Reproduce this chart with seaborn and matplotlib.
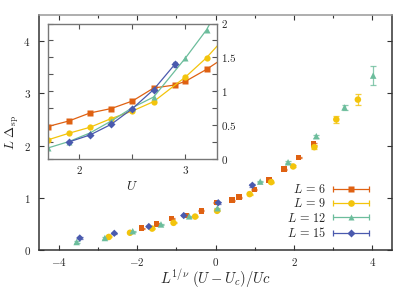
import numpy as np
import pandas as pd
import matplotlib
matplotlib.use("Agg")
import matplotlib.pyplot as plt
import seaborn as sns
from matplotlib.lines import Line2D
from matplotlib.legend_handler import HandlerBase
from matplotlib.ticker import MultipleLocator, FuncFormatter

# ---------------- data ----------------
sizes = [6, 9, 12, 15]
colors = ["#DF6112", "#F3C40C", "#6CBD9C", "#4A5AAE"]
markers = ["s", "o", "^", "D"]

# main (scaled) data
L6_x = [-1.885, -1.50, -1.12, -0.74, -0.36, 0.025, 0.415, 0.60, 0.99, 1.37, 1.75, 2.12, 2.50]
L6_y = [0.42, 0.50, 0.60, 0.66, 0.75, 0.91, 0.957, 1.01, 1.155, 1.345, 1.55, 1.77, 2.03]
L6_e = [0.01] * 13
L9_x = [-2.72, -2.18, -1.615, -1.07, -0.52, 0.04, 0.87, 1.42, 1.98, 2.52, 3.08, 3.63]
L9_y = [0.25, 0.33, 0.41, 0.52, 0.64, 0.75, 1.07, 1.30, 1.60, 1.97, 2.50, 2.88]
L9_e = [0.01, 0.01, 0.01, 0.01, 0.01, 0.01, 0.01, 0.01, 0.02, 0.03, 0.07, 0.11]
L12_x = [-3.54, -2.82, -2.11, -1.39, -0.67, 0.05, 1.14, 1.85, 2.57, 3.29, 4.02]
L12_y = [0.153, 0.23, 0.36, 0.49, 0.645, 0.80, 1.31, 1.68, 2.18, 2.73, 3.34]
L12_e = [0.01, 0.01, 0.01, 0.01, 0.01, 0.01, 0.01, 0.02, 0.03, 0.05, 0.175]
L15_x = [-3.46, -2.58, -1.70, -0.81, 0.07, 0.94]
L15_y = [0.23, 0.32, 0.45, 0.66, 0.905, 1.24]
L15_e = [0.01, 0.01, 0.01, 0.01, 0.02, 0.03]

# inset (raw U) data
U6 = [1.7, 1.9, 2.1, 2.3, 2.5, 2.7, 2.9, 3.0, 3.2, 3.4]
I6 = [0.473, 0.556, 0.675, 0.74, 0.852, 1.044, 1.089, 1.143, 1.321, 1.53]
U9 = [1.7, 1.9, 2.1, 2.3, 2.5, 2.7, 3.0, 3.2, 3.4]
I9 = [0.275, 0.374, 0.463, 0.592, 0.704, 0.843, 1.207, 1.494, 1.84]
U12 = [1.7, 1.9, 2.1, 2.3, 2.5, 2.7, 3.0, 3.2, 3.4]
I12 = [0.155, 0.251, 0.379, 0.556, 0.754, 0.911, 1.488, 1.908, 2.49]
U15 = [1.9, 2.1, 2.3, 2.5, 2.7, 2.9]
I15 = [0.245, 0.349, 0.507, 0.740, 1.021, 1.395]
I15_e = [0.01, 0.01, 0.01, 0.01, 0.015, 0.035]

main_sets = [(L6_x, L6_y, L6_e), (L9_x, L9_y, L9_e), (L12_x, L12_y, L12_e), (L15_x, L15_y, L15_e)]
inset_sets = [(U6, I6), (U9, I9), (U12, I12), (U15, I15)]
main_ms = [16, 22, 22, 14]
inset_ms = [4.2, 4.5, 4.5, 3.6]

# ---------------- style ----------------
sns.set_style("ticks")
plt.rcParams["font.family"] = ["serif"]
plt.rcParams["font.serif"] = ["cmr10", "DejaVu Serif"]
plt.rcParams["mathtext.fontset"] = "cm"
plt.rcParams["axes.formatter.use_mathtext"] = True

fig = plt.figure(figsize=(4.15, 2.91), dpi=100)
ax = fig.add_axes([39 / 415, 1 - 250 / 291, 353 / 415, 235 / 291])

for (x, y, e), c, m, s, L in zip(main_sets, colors, markers, main_ms, sizes):
    ax.errorbar(x, y, yerr=e, fmt="none", ecolor=c, elinewidth=0.9, capsize=2.0, capthick=0.9, alpha=0.8, zorder=2)
    df = pd.DataFrame({"x": x, "y": y})
    sns.scatterplot(data=df, x="x", y="y", ax=ax, color=c, marker=m, s=s, edgecolor="none", legend=False, zorder=3)

ax.set_xlim(-4.5, 4.5)
ax.set_ylim(0, 4.5)
ax.xaxis.set_major_locator(MultipleLocator(2))
ax.xaxis.set_minor_locator(MultipleLocator(1))
ax.yaxis.set_major_locator(MultipleLocator(1))
fmt = FuncFormatter(lambda v, p: "$%g$" % v if abs(v) > 1e-9 else "$0$")
ax.xaxis.set_major_formatter(fmt)
ax.yaxis.set_major_formatter(fmt)
ax.tick_params(which="both", direction="in", top=True, right=True, labelsize=8, color="#333333")
ax.tick_params(which="major", length=3.5, width=0.8)
ax.tick_params(which="minor", length=2.5, width=0.8)
ax.tick_params(axis="x", pad=4)
ax.tick_params(axis="y", pad=6)
for sp in ["left", "bottom", "right"]:
    ax.spines[sp].set_color("#333333")
    ax.spines[sp].set_linewidth(1.1)
ax.spines["top"].set_color("#999999")
ax.spines["top"].set_linewidth(1.1)
ax.set_xlabel(r"$L^{1/\nu}\ (U-U_c)/Uc$", fontsize=10.5, labelpad=0)
ax.set_ylabel(r"$L\ \Delta_{\rm sp}$", fontsize=9.5, labelpad=2)


# legend with errorbar-like handles
class CapHandler(HandlerBase):
    def create_artists(self, legend, orig_handle, xdescent, ydescent, width, height, fontsize, trans):
        c = orig_handle.get_color()
        m = orig_handle.get_marker()
        ms = orig_handle.get_markersize()
        y = height / 2 - ydescent
        x0, x1 = -xdescent, width - xdescent
        line = Line2D([x0, x1], [y, y], color=c, lw=0.9)
        caps = Line2D([x0, x1], [y, y], ls="none", marker="|", ms=4, mew=0.9, color=c)
        mk = Line2D([(x0 + x1) / 2], [y], ls="none", marker=m, ms=ms, color=c, mec="none")
        for a in (line, caps, mk):
            a.set_transform(trans)
        return [line, caps, mk]


handles = [Line2D([], [], color=c, marker=m, ms=ms) for c, m, ms in zip(colors, markers, [4.3, 4.8, 4.8, 3.8])]
labels = [r"$L\,=\,%d$" % L for L in sizes]
ax.legend(handles, labels, handler_map={Line2D: CapHandler()}, loc="center",
          bbox_to_anchor=(0.818, 0.164), frameon=False, markerfirst=False,
          fontsize=8.8, handlelength=2.9, handletextpad=0.6, labelspacing=0.1, borderpad=0)

# ---------------- inset ----------------
axi = fig.add_axes([47.7 / 415, 1 - 158.5 / 291, 169.5 / 415, 135 / 291])
axi.set_facecolor("white")
for (u, v), c, m, ms in zip(inset_sets, colors, markers, inset_ms):
    dfi = pd.DataFrame({"U": u, "v": v})
    sns.lineplot(data=dfi, x="U", y="v", ax=axi, color=c, marker=m, markersize=ms, markeredgecolor="none",
                 linewidth=0.9, estimator=None, sort=False, legend=False)
axi.errorbar(U15, I15, yerr=I15_e, fmt="none", ecolor=colors[3], elinewidth=0.9, capsize=1.5, capthick=0.9)
axi.set_xlim(1.7, 3.3)
axi.set_ylim(0, 2)
axi.xaxis.set_major_locator(MultipleLocator(1))
axi.xaxis.set_minor_locator(MultipleLocator(0.5))
axi.yaxis.set_major_locator(MultipleLocator(0.5))
axi.yaxis.set_minor_locator(MultipleLocator(0.25))
axi.xaxis.set_major_formatter(fmt)
axi.yaxis.set_major_formatter(fmt)
axi.tick_params(which="both", direction="in", top=True, right=True, left=True, bottom=True,
                labelleft=False, labelright=True, labelsize=8, color="#555555", width=0.8)
axi.tick_params(which="major", length=3.5)
axi.tick_params(which="minor", length=3.5)
axi.tick_params(axis="x", pad=4)
axi.tick_params(axis="y", pad=3)
for sp in axi.spines.values():
    sp.set_color("#777777")
    sp.set_linewidth(1.0)
axi.set_xlabel(r"$U$", fontsize=9.5, labelpad=3)
axi.set_ylabel("")

fig.savefig("out.png", dpi=100)
